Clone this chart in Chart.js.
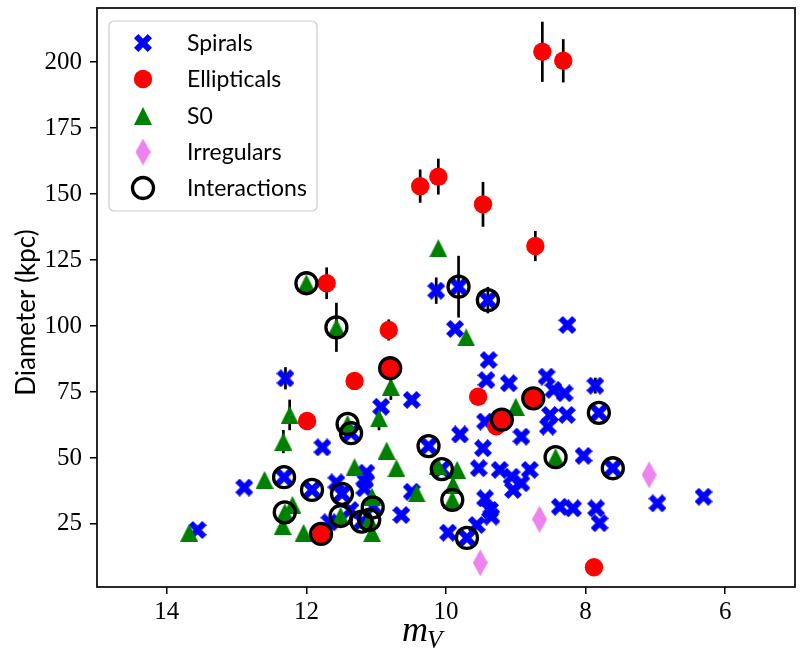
<!DOCTYPE html>
<html>
<head>
<meta charset="utf-8">
<script src="https://cdn.jsdelivr.net/npm/chart.js@4.4.1/dist/chart.umd.min.js"></script>
<style>
  html, body { margin: 0; padding: 0; background: #fff; }
  #wrap { width: 803px; height: 667px; }
</style>
</head>
<body>
<div id="wrap"><canvas id="chart" width="803" height="667"></canvas></div>
<script>
// values (x = apparent magnitude m_V, y = diameter in kpc)
const spiralX = [13.56, 12.89, 12.30, 12.32, 11.92, 11.77, 11.67, 11.57, 11.49, 11.36, 11.37, 11.14, 11.16, 11.17, 11.04, 11.20,
  10.93, 10.49, 10.25, 10.06, 10.49, 10.64, 9.97, 9.70, 9.80, 10.14, 9.82, 9.87, 9.40, 9.39, 9.42, 9.10, 8.56, 8.46, 8.30,
  8.26, 7.86, 7.81, 8.51, 8.27, 8.54, 9.44, 9.47, 8.92, 8.03, 7.61, 6.97, 6.31, 9.53, 9.23, 9.06, 8.92, 8.80, 9.04, 9.44,
  9.37, 9.35, 9.56, 8.37, 8.18, 7.85, 7.80];
const spiralY = [22.7, 38.8, 80.2, 42.7, 37.9, 54.0, 25.6, 40.7, 36.4, 59.4, 30.3, 44.4, 41.5, 38.5, 31.5, 26.0,
  69.4, 72.0, 54.5, 45.8, 37.2, 28.4, 21.7, 19.7, 58.9, 113.4, 114.9, 98.9, 109.8, 87.1, 79.5, 78.3, 80.8, 75.8, 74.5,
  100.4, 77.4, 67.1, 66.3, 66.3, 61.9, 63.8, 53.7, 58.1, 50.8, 46.1, 32.8, 35.3, 46.1, 45.5, 42.9, 40.4, 45.5, 37.9, 34.7,
  30.3, 27.8, 24.6, 31.5, 30.9, 30.9, 25.3];
const spiralErr = [0, 0, 4.2, 0, 0, 0, 0, 0, 0, 0, 0, 0, 0, 0, 0, 0,
  0, 0, 0, 0, 0, 0, 0, 0, 0, 5.0, 11.7, 0, 5.0, 0, 0, 0, 0, 0, 0,
  0, 3.0, 0, 0, 0, 0, 0, 0, 0, 0, 0, 0, 0, 0, 0, 0, 0, 0, 0, 0,
  0, 0, 0, 0, 0, 0, 0];

const ellX = [8.62, 8.32, 10.37, 10.11, 9.47, 8.72, 11.71, 10.82, 10.80, 11.31, 11.99, 9.54, 8.75, 9.28, 9.20, 11.79, 7.88];
const ellY = [203.9, 200.5, 153.0, 156.6, 146.1, 130.3, 116.2, 98.5, 84.0, 79.2, 64.0, 73.2, 72.6, 62.0, 64.5, 21.2, 8.6];
const ellErr = [11.4, 8.2, 6.3, 6.8, 8.5, 5.7, 6.0, 4.0, 0, 0, 0, 0, 0, 0, 0, 0, 0];

const s0X = [13.68, 12.60, 12.24, 12.33, 12.20, 12.31, 12.34, 12.04, 12.00, 11.57, 10.79, 10.96, 10.85, 10.71, 11.31,
  11.41, 11.51, 11.06, 11.10, 11.06, 10.42, 10.11, 9.71, 9.00, 10.12, 9.84, 9.91, 9.90, 8.43];
const s0Y = [21.7, 41.7, 66.3, 56.2, 32.2, 29.4, 24.2, 21.6, 116.2, 99.5, 77.0, 65.0, 52.8, 46.1, 46.5,
  62.9, 28.0, 35.3, 26.5, 21.5, 36.6, 129.5, 95.7, 69.4, 47.0, 45.5, 34.1, 39.8, 50.3];
const s0Err = [0, 0, 5.8, 4.4, 0, 0, 0, 0, 0, 9.3, 5.0, 4.5, 0, 0, 0,
  0, 0, 0, 0, 0, 0, 0, 0, 0, 0, 0, 0, 0, 0];

const irrX = [7.09, 8.66, 9.51];
const irrY = [43.6, 26.8, 10.3];

const interX = [12.32, 12.31, 11.92, 11.79, 11.49, 11.51, 11.41, 11.36, 11.05, 11.10, 11.21, 12.00, 11.57, 10.80,
  10.25, 10.06, 9.91, 9.70, 9.82, 9.40, 9.20, 8.75, 8.43, 7.81, 7.61];
const interY = [42.7, 29.4, 37.9, 21.2, 36.4, 28.0, 62.9, 59.4, 31.3, 26.5, 25.9, 116.2, 99.5, 84.0,
  54.5, 45.8, 34.1, 19.7, 114.9, 109.8, 64.5, 72.6, 50.3, 67.1, 46.1];

const seriesNames = ['Spirals', 'Ellipticals', 'S0', 'Irregulars', 'Interactions'];
const xTickValues = [14, 12, 10, 8, 6];
const yTickValues = [25, 50, 75, 100, 125, 150, 175, 200];
const xRange = [5, 15];
const yRange = [1.1, 220.5];

// marker images, roughly matplotlib's 'X', '^' and 'd'
function makeX(size, color) {
  const c = document.createElement('canvas');
  c.width = c.height = size;
  const g = c.getContext('2d');
  const t = size * 0.34;
  const a = t / (2 * Math.SQRT2);
  g.strokeStyle = color;
  g.lineWidth = t;
  g.lineCap = 'butt';
  g.beginPath();
  g.moveTo(a, a); g.lineTo(size - a, size - a);
  g.moveTo(size - a, a); g.lineTo(a, size - a);
  g.stroke();
  return c;
}
function makeTriangle(size, color) {
  const c = document.createElement('canvas');
  c.width = c.height = size;
  const g = c.getContext('2d');
  g.fillStyle = color;
  g.beginPath();
  g.moveTo(size / 2, 0); g.lineTo(size, size); g.lineTo(0, size);
  g.closePath();
  g.fill();
  return c;
}
function makeDiamond(w, h, color) {
  const c = document.createElement('canvas');
  c.width = w; c.height = h;
  const g = c.getContext('2d');
  g.fillStyle = color;
  g.beginPath();
  g.moveTo(w / 2, 0); g.lineTo(w, h / 2); g.lineTo(w / 2, h); g.lineTo(0, h / 2);
  g.closePath();
  g.fill();
  return c;
}

const xImg = makeX(18, '#0000ff');
const triImg = makeTriangle(18, '#008000');
const diaImg = makeDiamond(15, 27, '#ee82ee');

const pts = (xs, ys) => xs.map((x, i) => ({ x: x, y: ys[i] }));

const errorSets = [
  { xs: spiralX, ys: spiralY, err: spiralErr },
  { xs: ellX, ys: ellY, err: ellErr },
  { xs: s0X, ys: s0Y, err: s0Err }
];

const errorBars = {
  id: 'errorBars',
  beforeDatasetsDraw(chart) {
    const ctx = chart.ctx, sx = chart.scales.x, sy = chart.scales.y;
    ctx.save();
    ctx.strokeStyle = '#000';
    ctx.lineWidth = 2.7;
    errorSets.forEach(s => {
      s.xs.forEach((x, i) => {
        const e = s.err[i];
        if (!e) return;
        const px = sx.getPixelForValue(x);
        ctx.beginPath();
        ctx.moveTo(px, sy.getPixelForValue(s.ys[i] - e));
        ctx.lineTo(px, sy.getPixelForValue(s.ys[i] + e));
        ctx.stroke();
      });
    });
    ctx.restore();
  }
};

function drawMarker(ctx, ds, x, y) {
  const st = ds.pointStyle;
  if (st instanceof HTMLCanvasElement) {
    ctx.drawImage(st, x - st.width / 2, y - st.height / 2);
    return;
  }
  ctx.beginPath();
  ctx.arc(x, y, ds.pointRadius, 0, Math.PI * 2);
  if (ds.pointBackgroundColor !== 'transparent') {
    ctx.fillStyle = ds.pointBackgroundColor;
    ctx.fill();
  }
  if (ds.pointBorderWidth > 0) {
    ctx.strokeStyle = ds.pointBorderColor;
    ctx.lineWidth = ds.pointBorderWidth;
    ctx.stroke();
  }
}

const frame = {
  id: 'frame',
  afterDraw(chart) {
    const ctx = chart.ctx, a = chart.chartArea;
    ctx.save();
    // box round the axes
    ctx.strokeStyle = '#111';
    ctx.lineWidth = 1.8;
    ctx.strokeRect(a.left, a.top, a.right - a.left, a.bottom - a.top);

    // axis titles (the tex-rendered originals sit a little off centre)
    ctx.fillStyle = '#000';
    ctx.save();
    ctx.translate(27, (a.top + a.bottom) / 2 + 15);
    ctx.rotate(-Math.PI / 2);
    ctx.font = '26px Lato';
    ctx.textAlign = 'center';
    ctx.textBaseline = 'middle';
    ctx.fillText('Diameter (kpc)', 0, 0);
    ctx.restore();

    ctx.textBaseline = 'alphabetic';
    ctx.textAlign = 'left';
    ctx.font = 'italic 36px "Liberation Serif"';
    const mw = ctx.measureText('m').width;
    const cx = (a.left + a.right) / 2 - 44;
    ctx.fillText('m', cx, 641);
    ctx.font = 'italic 25px "Liberation Serif"';
    ctx.fillText('V', cx + mw - 1, 648);

    // legend box
    const bx = 109, by = 21, bw = 208, bh = 190, r = 5;
    ctx.beginPath();
    ctx.moveTo(bx + r, by);
    ctx.arcTo(bx + bw, by, bx + bw, by + bh, r);
    ctx.arcTo(bx + bw, by + bh, bx, by + bh, r);
    ctx.arcTo(bx, by + bh, bx, by, r);
    ctx.arcTo(bx, by, bx + bw, by, r);
    ctx.closePath();
    ctx.fillStyle = 'rgba(255,255,255,0.8)';
    ctx.fill();
    ctx.strokeStyle = '#cccccc';
    ctx.lineWidth = 1.2;
    ctx.stroke();

    const rows = [43, 79, 116, 152, 188];
    ctx.font = '23px Lato';
    ctx.textBaseline = 'middle';
    chart.data.datasets.forEach((ds, i) => {
      drawMarker(ctx, ds, 143, rows[i]);
      ctx.fillStyle = '#000';
      ctx.fillText(seriesNames[i], 187, rows[i] + 1);
    });
    ctx.restore();
  }
};

const tickFont = { family: 'Liberation Serif', size: 25 };

new Chart(document.getElementById('chart'), {
  type: 'scatter',
  data: {
    datasets: [
      { label: seriesNames[0], data: pts(spiralX, spiralY), pointStyle: xImg, pointRadius: 9, order: 4 },
      { label: seriesNames[1], data: pts(ellX, ellY), pointStyle: 'circle', pointRadius: 9.2,
        pointBackgroundColor: '#ff0000', pointBorderWidth: 0, pointBorderColor: '#ff0000', order: 3 },
      { label: seriesNames[2], data: pts(s0X, s0Y), pointStyle: triImg, pointRadius: 9, order: 2 },
      { label: seriesNames[3], data: pts(irrX, irrY), pointStyle: diaImg, pointRadius: 9, order: 1 },
      { label: seriesNames[4], data: pts(interX, interY), pointStyle: 'circle', pointRadius: 10.5,
        pointBackgroundColor: 'transparent', pointBorderColor: '#000', pointBorderWidth: 3.3, order: 0 }
    ]
  },
  options: {
    responsive: false,
    animation: false,
    events: [],
    layout: { autoPadding: false, padding: { top: 8, right: 8, left: 0, bottom: 0 } },
    plugins: { legend: { display: false }, tooltip: { enabled: false } },
    scales: {
      x: {
        type: 'linear', reverse: true, min: xRange[0], max: xRange[1],
        afterBuildTicks: s => { s.ticks = xTickValues.map(v => ({ value: v })); },
        afterFit: s => { s.height = 80; s.paddingLeft = 0; s.paddingRight = 0; },
        ticks: { font: tickFont, color: '#000', padding: 3, maxRotation: 0 },
        grid: { drawOnChartArea: false, drawTicks: true, tickLength: 7, color: '#000', lineWidth: 1.5 },
        border: { display: false }
      },
      y: {
        type: 'linear', min: yRange[0], max: yRange[1],
        afterBuildTicks: s => { s.ticks = yTickValues.map(v => ({ value: v })); },
        afterFit: s => { s.width = 97; s.paddingTop = 0; s.paddingBottom = 0; },
        ticks: { font: tickFont, color: '#000', padding: 8 },
        grid: { drawOnChartArea: false, drawTicks: true, tickLength: 7, color: '#000', lineWidth: 1.5 },
        border: { display: false }
      }
    }
  },
  plugins: [errorBars, frame]
});
</script>
</body>
</html>
